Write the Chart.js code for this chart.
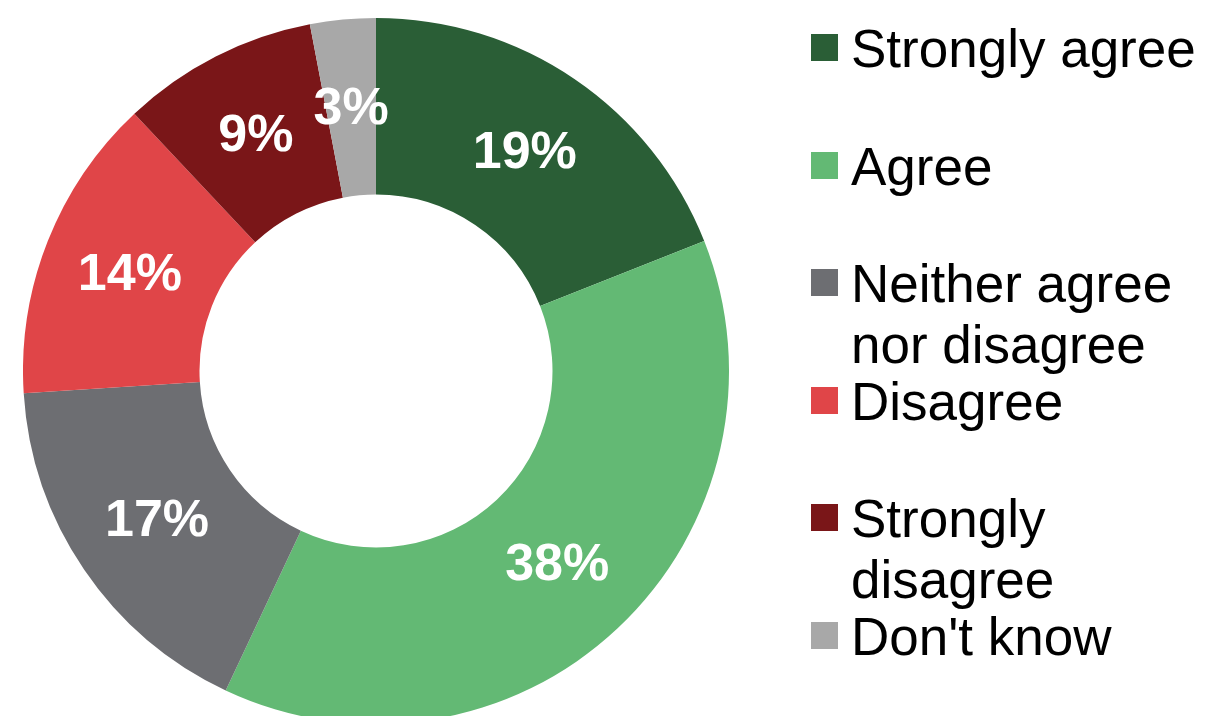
<!DOCTYPE html>
<html>
<head>
<meta charset="utf-8">
<script src="https://cdn.jsdelivr.net/npm/chart.js@4"></script>
<style>
    html, body {
        margin: 0;
        padding: 0;
        width: 1205px;
        height: 716px;
        overflow: hidden;
        background: #ffffff;
        font-family: Arial, "Liberation Sans", sans-serif;
    }
    #ringChart {
        position: absolute;
        left: 23px;
        top: 18px;
    }
    .legend-item {
        position: absolute;
        left: 811px;
    }
    .legend-swatch {
        position: absolute;
        left: 0;
        top: 0;
        width: 27px;
        height: 27px;
    }
    .legend-text {
        position: absolute;
        left: 40px;
        top: -16px;
        font-size: 53px;
        line-height: 61px;
        color: #000000;
        white-space: nowrap;
    }
</style>
</head>
<body>
<canvas id="ringChart" width="706" height="706"></canvas>
<div id="legend"></div>

<script>
// Survey answers, share of respondents in percent
const answers = ['Strongly agree', 'Agree', 'Neither agree nor disagree', 'Disagree', 'Strongly disagree', "Don't know"];
const legendLines = [['Strongly agree'], ['Agree'], ['Neither agree', 'nor disagree'], ['Disagree'], ['Strongly', 'disagree'], ["Don't know"]];
const shares = [19, 38, 17, 14, 9, 3];
const sliceColors = ['#2a5e36', '#63b974', '#6d6e72', '#e04548', '#7a1618', '#a8a8a8'];

// Percent labels painted in the middle of each ring segment
const sliceLabels = {
    id: 'sliceLabels',
    afterDatasetsDraw(chart) {
        const ctx = chart.ctx;
        const meta = chart.getDatasetMeta(0);
        ctx.save();
        ctx.fillStyle = '#ffffff';
        ctx.font = 'bold 52px Arial, "Liberation Sans", sans-serif';
        ctx.textAlign = 'center';
        ctx.textBaseline = 'middle';
        meta.data.forEach((arc, i) => {
            const p = arc.getCenterPoint();
            ctx.fillText(shares[i] + '%', p.x, p.y + 2);
        });
        ctx.restore();
    }
};

new Chart(document.getElementById('ringChart'), {
    type: 'doughnut',
    data: {
        labels: answers,
        datasets: [{
            data: shares,
            backgroundColor: sliceColors,
            borderWidth: 0,
            offset: 0,
            hoverOffset: 0,
            spacing: 0
        }]
    },
    options: {
        responsive: false,
        animation: false,
        cutout: '50%',
        layout: { padding: 0 },
        plugins: {
            legend: { display: false },
            tooltip: { enabled: false }
        }
    },
    plugins: [sliceLabels]
});

// Legend on the right, one swatch per answer
const legend = document.getElementById('legend');
answers.forEach((name, i) => {
    const item = document.createElement('div');
    item.className = 'legend-item';
    item.style.top = (34 + i * 117.5) + 'px';
    item.innerHTML = `
        <div class="legend-swatch" style="background:${sliceColors[i]}"></div>
        <div class="legend-text">${legendLines[i].join('<br>')}</div>
    `;
    legend.appendChild(item);
});
</script>
</body>
</html>
